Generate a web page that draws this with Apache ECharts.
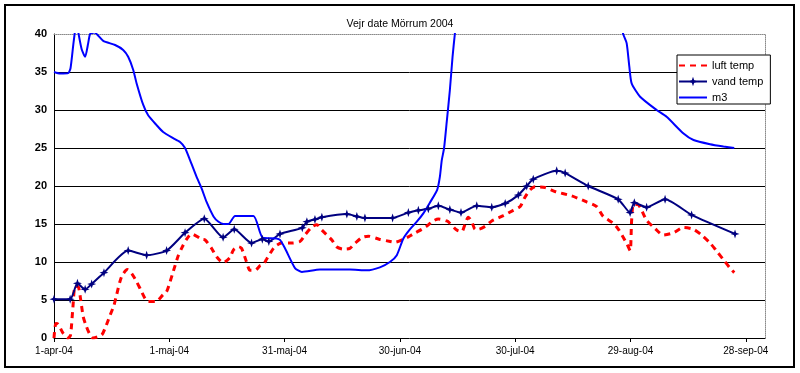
<!DOCTYPE html>
<html>
<head>
<meta charset="utf-8">
<script src="https://cdn.jsdelivr.net/npm/echarts@6/dist/echarts.min.js"></script>
<style>
html,body{margin:0;padding:0;background:#fff;}
#chart{width:800px;height:373px;}
</style>
</head>
<body>
<div id="chart"></div>
<script>
// ---- data (day 0 = 1 April 2004) ----
var titleText = 'Vejr date Mörrum 2004';
var seriesNames = ['luft temp', 'vand temp', 'm3'];
var xTickDays = [0, 30, 60, 90, 120, 150, 180];
var xTickLabels = ['1-apr-04', '1-maj-04', '31-maj-04', '30-jun-04', '30-jul-04', '29-aug-04', '28-sep-04'];
var yTicks = [0, 5, 10, 15, 20, 25, 30, 35, 40];

var luftDays = [0, 0.5, 1.1, 2.4, 3.7, 4.3, 4.9, 5.5, 6.3, 6.9, 7.6, 8.3, 9.2, 10.1, 12.4, 13.3, 14.6, 15.6, 16.3, 17.6, 19.1, 20.2, 21.5, 22.6, 23.7, 24.5, 26.5, 28.4, 29.3, 30.2, 31.0, 32.3, 33.2, 34.5, 35.8, 38.4, 39.3, 41.0, 42.3, 44.0, 45.8, 46.7, 48.0, 48.8, 50.1, 51.0, 52.3, 53.6, 54.5, 55.3, 56.2, 57.1, 57.9, 59.2, 61.8, 64.0, 65.3, 67.1, 68.4, 69.7, 71.0, 72.3, 73.5, 75.3, 77.0, 78.3, 80.1, 81.8, 84.6, 87.5, 88.7, 90.9, 92.2, 93.5, 95.7, 96.8, 98.7, 100.0, 102.2, 103.0, 104.8, 106.1, 106.9, 107.8, 108.7, 109.6, 110.4, 112.2, 113.9, 116.9, 119.5, 121.3, 122.4, 123.9, 125.2, 127.8, 130.5, 134.7, 138.6, 141.2, 142.9, 145.5, 147.0, 149.0, 149.9, 150.3, 150.8, 152.1, 154.2, 156.4, 158.5, 161.2, 163.8, 166.4, 168.5, 170.7, 172.4, 174.2, 175.9, 177.0];
var luftTemp = [0, 1.9, 1.8, 0.6, 0, 0.4, 3.9, 6.8, 6.75, 5.2, 2.8, 1.7, 0.6, 0, 0.4, 1.3, 3.0, 4.3, 5.7, 8.1, 9.0, 8.5, 7.4, 6.3, 5.2, 4.8, 4.8, 5.7, 6.1, 7.4, 8.7, 10.8, 11.8, 13.0, 13.7, 13.0, 12.9, 11.8, 10.7, 9.9, 10.6, 11.6, 12.0, 11.8, 10.0, 8.9, 8.9, 9.5, 9.7, 10.35, 11.1, 11.8, 12.2, 12.5, 12.5, 12.7, 13.55, 14.6, 14.9, 14.2, 13.55, 12.9, 12.0, 11.7, 11.8, 12.45, 13.2, 13.4, 13.0, 12.7, 12.6, 13.0, 13.3, 13.7, 14.3, 14.65, 15.4, 15.65, 15.4, 15.1, 14.2, 14.0, 14.9, 15.9, 15.3, 14.3, 14.3, 14.7, 15.4, 16.1, 16.8, 17.3, 18.4, 19.5, 19.9, 19.8, 19.25, 18.7, 17.9, 17.3, 16.0, 15.1, 14.2, 12.45, 11.5, 15.5, 17.6, 17.5, 15.5, 14.4, 13.55, 13.85, 14.55, 14.3, 13.55, 12.5, 11.45, 10.3, 9.2, 8.6];

var vandDays = [0, 4.2, 6.1, 8.1, 9.8, 13.0, 19.3, 24.1, 29.3, 34.1, 39.1, 44.0, 46.9, 51.4, 54.2, 55.9, 58.8, 64.6, 65.8, 67.9, 69.7, 76.2, 78.8, 80.9, 88.1, 92.2, 94.8, 97.4, 100.0, 103.0, 105.9, 110.0, 113.9, 117.4, 120.8, 123.0, 124.7, 130.8, 133.0, 139.0, 146.8, 149.9, 151.0, 154.2, 159.0, 165.9, 177.2];
var vandTemp = [5.1, 5.1, 7.2, 6.4, 7.1, 8.6, 11.5, 10.9, 11.5, 13.85, 15.7, 13.25, 14.3, 12.5, 13.0, 12.7, 13.7, 14.5, 15.3, 15.6, 15.9, 16.3, 16.0, 15.8, 15.8, 16.5, 16.8, 17.0, 17.4, 16.9, 16.5, 17.4, 17.2, 17.7, 18.8, 20.0, 20.9, 22.0, 21.7, 20.0, 18.25, 16.5, 17.8, 17.2, 18.25, 16.2, 13.7];

var m3Days = [0, 1.6, 3.7, 4.3, 5.0, 5.5, 5.9, 6.4, 7.2, 8.1, 8.9, 9.4, 10.5, 12.8, 15.9, 18.0, 19.3, 20.6, 21.5, 23.2, 24.5, 26.7, 28.4, 31.0, 32.8, 34.1, 35.4, 37.1, 38.4, 39.7, 41.5, 42.8, 44.1, 45.4, 47.1, 51.9, 54.3, 57.9, 58.8, 60.1, 62.7, 64.5, 69.2, 77.0, 81.4, 84.8, 87.4, 89.2, 90.9, 92.6, 94.4, 96.1, 97.8, 99.7, 100.4, 100.9, 101.5, 102.2, 103.0, 103.7, 104.3, 105.0, 110.0, 125.0, 140.0, 146.0, 148.1, 149.0, 149.7, 150.3, 152.5, 156.8, 159.4, 163.8, 166.4, 170.7, 174.2, 177.0];
var m3Values = [35.0, 34.8, 34.85, 35.5, 38.5, 40.5, 41.5, 40.0, 38.0, 37.0, 38.8, 40.0, 40.2, 39.1, 38.55, 37.9, 37.0, 35.3, 33.5, 30.7, 29.3, 28.0, 27.1, 26.3, 25.8, 25.0, 23.4, 21.2, 19.7, 17.9, 16.0, 15.3, 15.0, 15.0, 16.05, 16.05, 13.2, 13.1, 12.9, 11.8, 9.2, 8.7, 9.0, 9.0, 8.9, 9.3, 10.0, 10.9, 13.1, 14.3, 15.3, 16.4, 17.8, 19.5, 21.2, 23.4, 25.0, 28.5, 32.6, 37.0, 40.0, 43.0, 60.0, 70.0, 60.0, 45.0, 40.0, 38.8, 35.7, 33.5, 31.75, 30.0, 29.1, 26.9, 26.05, 25.5, 25.2, 25.0];

function pairs(xs, ys) { return xs.map(function (x, i) { return [x, ys[i]]; }); }

var FONT = '"Liberation Sans", Arial, sans-serif';
var chart = echarts.init(document.getElementById('chart'), null, { renderer: 'canvas' });

var axisCommonX = { type: 'value', min: 0, max: 185 };
var option = {
  backgroundColor: '#fff',
  animation: false,
  title: {
    text: titleText, left: 'center', top: 19, padding: 0,
    textStyle: { fontFamily: FONT, fontSize: 10.5, fontWeight: 'normal', color: '#000' }
  },
  legend: {
    orient: 'vertical', left: 677, top: 55,
    padding: [5, 7, 1, 1], itemWidth: 28, itemHeight: 12, itemGap: 5,
    borderColor: '#000', borderWidth: 1, backgroundColor: '#fff',
    textStyle: { fontFamily: FONT, fontSize: 11, color: '#000' },
    data: [
      { name: seriesNames[0], itemStyle: { opacity: 0 } },
      { name: seriesNames[1] },
      { name: seriesNames[2], itemStyle: { opacity: 0 } }
    ]
  },
  graphic: [{
    type: 'rect', shape: { x: 5, y: 5, width: 789, height: 362 },
    style: { fill: 'none', stroke: '#000', lineWidth: 2 }, silent: true, z: 100
  }],
  grid: { left: 54, right: 35, top: 34, bottom: 35, containLabel: false },
  xAxis: [
    Object.assign({}, axisCommonX, {
      position: 'bottom',
      axisLine: { lineStyle: { color: '#000', width: 1 } },
      axisTick: { show: true, inside: false, length: 4, customValues: xTickDays, lineStyle: { color: '#000' } },
      axisLabel: {
        customValues: xTickDays, margin: 8,
        fontFamily: FONT, fontSize: 10, color: '#000',
        formatter: function (v) { var i = xTickDays.indexOf(v); return i >= 0 ? xTickLabels[i] : ''; }
      },
      splitLine: { show: false }
    }),
    Object.assign({}, axisCommonX, {
      position: 'top',
      axisLine: { show: true, onZero: false, lineStyle: { color: '#8a8a8a', type: 'dotted', width: 1 } },
      axisTick: { show: false }, axisLabel: { show: false }, splitLine: { show: false }
    })
  ],
  yAxis: [
    {
      type: 'value', min: yTicks[0], max: yTicks[yTicks.length - 1], interval: 5, position: 'left',
      axisLine: { show: true, lineStyle: { color: '#000', width: 1 } },
      axisTick: { show: false },
      axisLabel: { margin: 7, fontFamily: FONT, fontSize: 11, fontWeight: 'bold', color: '#000' },
      splitLine: { show: true, showMinLine: false, showMaxLine: false, lineStyle: { color: '#000', width: 1 } }
    },
    {
      type: 'value', min: yTicks[0], max: yTicks[yTicks.length - 1], interval: 5, position: 'right',
      axisLine: { show: true, onZero: false, lineStyle: { color: '#8a8a8a', type: 'dotted', width: 1 } },
      axisTick: { show: false }, axisLabel: { show: false }, splitLine: { show: false }
    }
  ],
  series: [
    {
      name: seriesNames[0], type: 'line', data: pairs(luftDays, luftTemp),
      symbol: 'none', smooth: 0.25, clip: true,
      lineStyle: { color: '#ff0000', width: 3, type: [6, 5] },
      itemStyle: { color: '#ff0000' }
    },
    {
      name: seriesNames[1], type: 'line', data: pairs(vandDays, vandTemp),
      symbol: 'path://M0,-1 L0.25,-0.25 L1,0 L0.25,0.25 L0,1 L-0.25,0.25 L-1,0 L-0.25,-0.25 Z',
      symbolSize: 9, showSymbol: true, smooth: 0.2, clip: true,
      lineStyle: { color: '#000080', width: 2 },
      itemStyle: { color: '#000080' }
    },
    {
      name: seriesNames[2], type: 'line', data: pairs(m3Days, m3Values),
      symbol: 'none', smooth: 0.2, clip: true,
      lineStyle: { color: '#0000ff', width: 2 },
      itemStyle: { color: '#0000ff' }
    }
  ]
};
chart.setOption(option);
</script>
</body>
</html>
